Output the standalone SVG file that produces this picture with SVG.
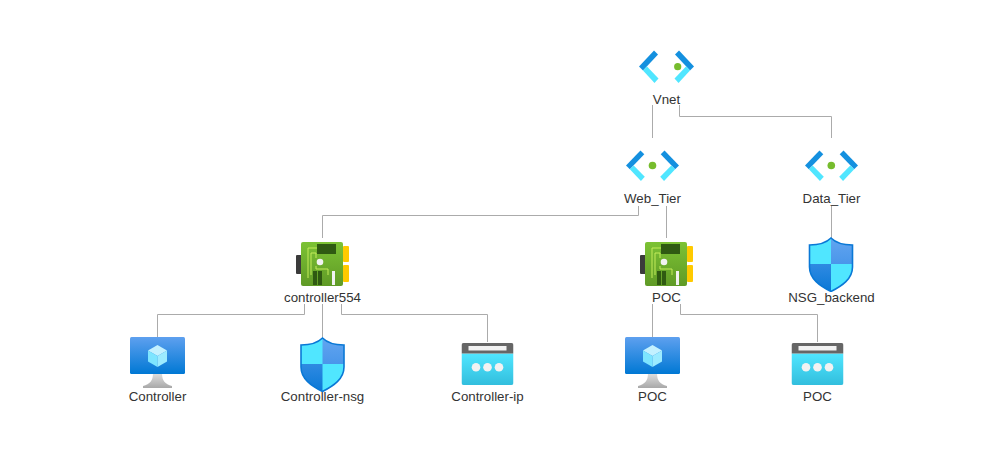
<svg xmlns="http://www.w3.org/2000/svg" width="997" height="459" viewBox="0 0 997 459">
<style>
text{font-family:"Liberation Sans",Arial,sans-serif;font-size:13.300px;fill:#333;text-anchor:middle}
.c{fill:none;stroke:#ababab;stroke-width:1}
.d{fill:#76bc2d}
</style>
<defs>
<linearGradient id="mon" x1="0" y1="0" x2="0" y2="1"><stop offset="0" stop-color="#5ea0ef"/><stop offset="1" stop-color="#0078d4"/></linearGradient>
<linearGradient id="st" x1="0" y1="0" x2="0" y2="1"><stop offset="0" stop-color="#e0e0e0"/><stop offset="1" stop-color="#a8a8a8"/></linearGradient>
<linearGradient id="ip" x1="0" y1="0" x2="0" y2="1"><stop offset="0" stop-color="#50e6ff"/><stop offset="1" stop-color="#32bedd"/></linearGradient>
<linearGradient id="pcb" x1="0" y1="0" x2="0" y2="1"><stop offset="0" stop-color="#7cc234"/><stop offset="1" stop-color="#5f9a26"/></linearGradient>
<linearGradient id="sh1" x1="0" y1="0" x2="0" y2="1"><stop offset="0" stop-color="#62a5f0"/><stop offset="1" stop-color="#4a96ea"/></linearGradient>
<linearGradient id="sh2" x1="0" y1="0" x2="0" y2="1"><stop offset="0" stop-color="#2f8ae2"/><stop offset="1" stop-color="#0a78d6"/></linearGradient>
<symbol id="vnet" viewBox="0 0 55 33" preserveAspectRatio="none">
<polygon points="0,16.500 15,0.500 19,4.500 4,20.500" fill="#1490df"/>
<polygon points="4,20.500 8,16.500 19.500,28.500 15.500,33" fill="#50e6ff"/>
<polygon points="55,16.500 40,0.500 36,4.500 51,20.500" fill="#1490df"/>
<polygon points="51,20.500 47,16.500 35.500,28.500 39.500,33" fill="#50e6ff"/>
</symbol>
<symbol id="nic" viewBox="0 0 54 48">
<rect x="0" y="13" width="6" height="19" rx="1" fill="#3b3b3b"/>
<rect x="47" y="4" width="6" height="16" rx="1" fill="#ffca00"/>
<rect x="47" y="23" width="6" height="17" rx="1" fill="#ffca00"/>
<rect x="5" y="0" width="42" height="44" rx="2" fill="url(#pcb)"/>
<rect x="21" y="2" width="19" height="10" fill="#2f5a12"/>
<path d="M12 36V6H21M15 33V11H20V16M20 24V27H32V33" fill="none" stroke="#c4ec5a" stroke-width="1"/>
<circle cx="24" cy="20" r="3.300" fill="#f2f2f2"/>
<rect x="17" y="29" width="4" height="14" fill="#2f5a12"/>
<rect x="22" y="29" width="4" height="14" fill="#2f5a12"/>
<rect x="36" y="29" width="3" height="14" fill="#f2f2f2"/>
</symbol>
<symbol id="vm" viewBox="0 0 55 52">
<path d="M23 36H32C32 44 35 47 42 49V51H13V49C20 47 23 44 23 36Z" fill="url(#st)"/>
<rect width="55" height="37" rx="1.500" fill="url(#mon)"/>
<path d="M27.500 8 37 13.500 27.500 19 18 13.500Z" fill="#c3f1ff"/>
<path d="M18 13.500 27.500 19V30L18 24.500Z" fill="#7de5ff"/>
<path d="M37 13.500 27.500 19V30L37 24.500Z" fill="#9cebff"/>
</symbol>
<symbol id="nsg" viewBox="0 0 46 55">
<path d="M23 1C28 6 36 8 44.500 8V30C44.500 42 34 49 23 54.500C12 49 1.500 42 1.500 30V8C10 8 18 6 23 1Z" fill="#50e6ff"/>
<path d="M23 1C28 6 36 8 44.500 8V27H23Z" fill="url(#sh1)"/>
<path d="M1.500 27H23V54.500C12 49 1.500 42 1.500 30Z" fill="url(#sh2)"/>
<path d="M23 1C28 6 36 8 44.500 8V30C44.500 42 34 49 23 54.500C12 49 1.500 42 1.500 30V8C10 8 18 6 23 1Z" fill="none" stroke="#0a78d6" stroke-width="1.600"/>
</symbol>
<symbol id="pip" viewBox="0 0 52 42">
<path d="M0 10.500H52V40A2 2 0 0 1 50 42H2A2 2 0 0 1 0 40Z" fill="url(#ip)"/>
<path d="M2 0H50A2 2 0 0 1 52 2V10.500H0V2A2 2 0 0 1 2 0Z" fill="#666"/>
<rect x="7" y="3" width="38" height="4.500" fill="#f2f2f2"/>
<circle cx="14.500" cy="24.300" r="4.300" fill="#f2f2f2"/>
<circle cx="26" cy="24.300" r="4.300" fill="#f2f2f2"/>
<circle cx="37.500" cy="24.300" r="4.300" fill="#f2f2f2"/>
</symbol>
</defs>
<g id="connectors">
<path class="c" d="M652.500 105V138"/>
<path class="c" d="M679.500 105V116.500H831.500V138"/>
<path class="c" d="M638.500 206V215.500H322.500V238"/>
<path class="c" d="M666.500 206V238"/>
<path class="c" d="M831.500 206V238"/>
<path class="c" d="M304.500 304V314.500H157.500V337"/>
<path class="c" d="M322.500 304V337"/>
<path class="c" d="M341.500 304V314.500H487.500V342"/>
<path class="c" d="M652.500 304V337"/>
<path class="c" d="M680.500 304V314.500H817.500V342"/>
</g>
<g id="vnet-node"><use href="#vnet" x="639" y="50" width="55" height="33"/><circle class="d" cx="677.700" cy="66.700" r="3.600"/><text x="666.500" y="104">Vnet</text></g>
<g id="web-tier"><use href="#vnet" x="626" y="150" width="53" height="31"/><circle class="d" cx="652.500" cy="165.500" r="3.800"/><text x="652.500" y="203">Web_Tier</text></g>
<g id="data-tier"><use href="#vnet" x="805" y="150" width="53" height="31"/><circle class="d" cx="831.300" cy="165.500" r="3.800"/><text x="831.500" y="203">Data_Tier</text></g>
<g id="nic-controller"><use href="#nic" x="296" y="242" width="54" height="48"/><text x="322.500" y="301.500">controller554</text></g>
<g id="nic-poc"><use href="#nic" x="640" y="242" width="54" height="48"/><text x="666.500" y="301.500">POC</text></g>
<g id="nsg-backend"><use href="#nsg" x="808" y="237" width="46" height="55"/><text x="831.500" y="301.500">NSG_backend</text></g>
<g id="vm-controller"><use href="#vm" x="130" y="337" width="55" height="52"/><text x="157.500" y="400.500">Controller</text></g>
<g id="nsg-controller"><use href="#nsg" x="299.500" y="337" width="46" height="55"/><text x="322.500" y="400.500">Controller-nsg</text></g>
<g id="ip-controller"><use href="#pip" x="461.500" y="343" width="52" height="42"/><text x="487.500" y="400.500">Controller-ip</text></g>
<g id="vm-poc"><use href="#vm" x="625" y="337" width="55" height="52"/><text x="652.500" y="400.500">POC</text></g>
<g id="ip-poc"><use href="#pip" x="791.500" y="343" width="52" height="42"/><text x="817.500" y="400.500">POC</text></g>
</svg>
